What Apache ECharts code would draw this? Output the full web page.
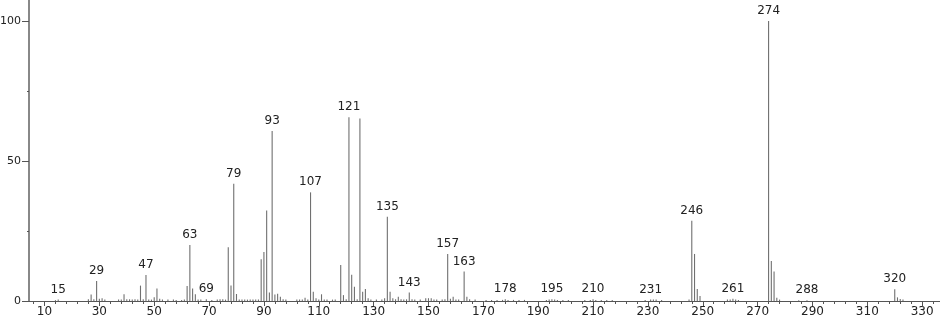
<!DOCTYPE html>
<html>
<head>
<meta charset="utf-8">
<script src="https://cdn.jsdelivr.net/npm/echarts@6/dist/echarts.min.js"></script>
<style>html,body{margin:0;padding:0;background:#fff}#c{width:940px;height:323px}</style>
</head>
<body>
<div id="c"></div>
<script>
// m/z values and relative intensities
const mz = [
  14,15,26,27,28,29,30,31,32,37,38,39,40,41,42,43,44,45,46,47,48,49,50,51,52,53,55,57,58,60,61,62,63,64,65,66,67,69,71,73,74,75,76,
  77,78,79,80,81,82,83,84,85,86,87,88,89,90,91,92,93,94,95,96,97,98,102,103,104,105,106,107,108,109,110,111,112,113,115,116,
  118,119,120,121,122,123,124,125,126,127,128,129,131,133,134,135,136,137,138,139,140,141,142,143,144,145,147,149,150,151,152,153,155,156,
  157,158,159,160,161,163,164,165,167,171,173,175,177,178,179,181,183,185,193,194,195,196,197,199,201,207,209,210,211,213,215,217,
  229,231,232,233,235,245,246,247,248,249,259,260,261,262,263,274,275,276,277,278,285,288,320,321,322,323
];
const intensity = [
  0.3,0.5,0.6,2.3,0.6,7.1,0.8,1.0,0.5,0.5,0.5,2.4,0.6,0.6,0.5,0.6,0.5,5.5,0.6,9.3,0.5,0.5,1.3,4.5,0.8,0.5,0.5,0.5,0.4,0.4,0.5,5.4,20.0,4.5,2.4,0.5,0.5,0.6,0.4,0.5,0.6,0.6,0.5,
  19.2,5.5,41.9,2.5,0.5,0.5,0.5,0.5,0.5,0.5,0.5,0.5,14.9,17.5,32.3,3.0,60.7,2.3,2.6,1.5,0.6,0.5,0.5,0.5,0.5,1.2,0.5,38.8,3.3,1.0,0.5,2.4,0.5,0.5,0.5,0.5,
  12.9,2.1,0.6,65.6,9.4,5.1,0.6,65.2,3.3,4.3,1.0,0.5,0.5,0.5,1.0,30.1,3.3,1.0,0.6,1.5,0.6,0.5,0.6,3.0,0.6,0.5,0.5,1.0,1.0,1.0,0.5,0.5,0.5,0.6,
  16.8,0.8,1.5,0.5,0.5,10.5,1.5,0.6,0.5,0.4,0.4,0.4,0.4,0.6,0.4,0.4,0.4,0.4,0.4,0.5,0.6,0.5,0.4,0.4,0.4,0.4,0.4,0.6,0.4,0.4,0.4,0.4,
  0.4,0.5,0.5,0.5,0.4,0.5,28.7,16.8,4.3,1.8,0.5,0.5,0.8,0.5,0.4,100,14.3,10.5,1.2,0.5,0.3,0.3,4.2,1.3,0.7,0.5
];
// peaks annotated with their m/z
const labeledPeaks = [15,29,47,63,69,79,93,107,121,135,143,157,163,178,195,210,231,246,261,274,288,320];
// axis tick labels
const xTickLabels = [10,30,50,70,90,110,130,150,170,190,210,230,250,270,290,310,330];
const xMinorTicks = [6,14,18,22,26,34,38,42,46,54,58,62,66,74,78,82,86,94,98,102,106,114,118,122,126,134,138,142,146,154,158,162,166,174,178,182,186,194,198,202,206,214,218,222,226,234,238,242,246,254,258,262,266,274,278,282,286,294,298,302,306,314,318,322,326,334];
const yTickLabels = [0,50,100];
const yMinorTicks = [25,75];

const FONT = 'DejaVu Sans';
const data = mz.map((m, i) => ({
  value: [m, intensity[i]],
  label: { show: labeledPeaks.includes(m) }
}));

const chart = echarts.init(document.getElementById('c'), null, { renderer: 'canvas' });
const axisCol = '#555';
const xMin = 4.35, xMax = 336.5, yMax = 107.5;
chart.setOption({
  animation: false,
  backgroundColor: '#fff',
  grid: { left: 29, right: 0, top: 0, bottom: 22, containLabel: false, outerBoundsMode: 'none' },
  xAxis: [{
    type: 'value', min: xMin, max: xMax, position: 'bottom',
    splitLine: { show: false },
    axisLine: { lineStyle: { color: axisCol, width: 1 } },
    axisTick: { customValues: xTickLabels, length: 5, lineStyle: { color: axisCol } },
    axisLabel: { customValues: xTickLabels, margin: 5, color: '#222', fontFamily: FONT, fontSize: 12 }
  }, {
    type: 'value', min: xMin, max: xMax, position: 'bottom',
    splitLine: { show: false },
    axisLine: { show: false },
    axisTick: { customValues: xMinorTicks, length: 3, lineStyle: { color: axisCol } },
    axisLabel: { show: false }
  }],
  yAxis: [{
    type: 'value', min: 0, max: yMax, position: 'left',
    splitLine: { show: false },
    axisLine: { show: true, lineStyle: { color: '#888', width: 2 } },
    axisTick: { show: true, customValues: yTickLabels, length: 7, lineStyle: { color: axisCol } },
    axisLabel: { customValues: yTickLabels, margin: 8, color: '#222', fontFamily: FONT, fontSize: 11 }
  }, {
    type: 'value', min: 0, max: yMax, position: 'left',
    splitLine: { show: false },
    axisLine: { show: false },
    axisTick: { show: true, customValues: yMinorTicks, length: 2, lineStyle: { color: axisCol } },
    axisLabel: { show: false }
  }],
  series: [{
    type: 'bar',
    xAxisIndex: 0, yAxisIndex: 0,
    barWidth: 1.1,
    itemStyle: { color: '#707070' },
    label: {
      position: 'top', distance: 4,
      color: '#222', fontFamily: FONT, fontSize: 12,
      formatter: p => p.value[0]
    },
    data: data
  }]
});
</script>
</body>
</html>
